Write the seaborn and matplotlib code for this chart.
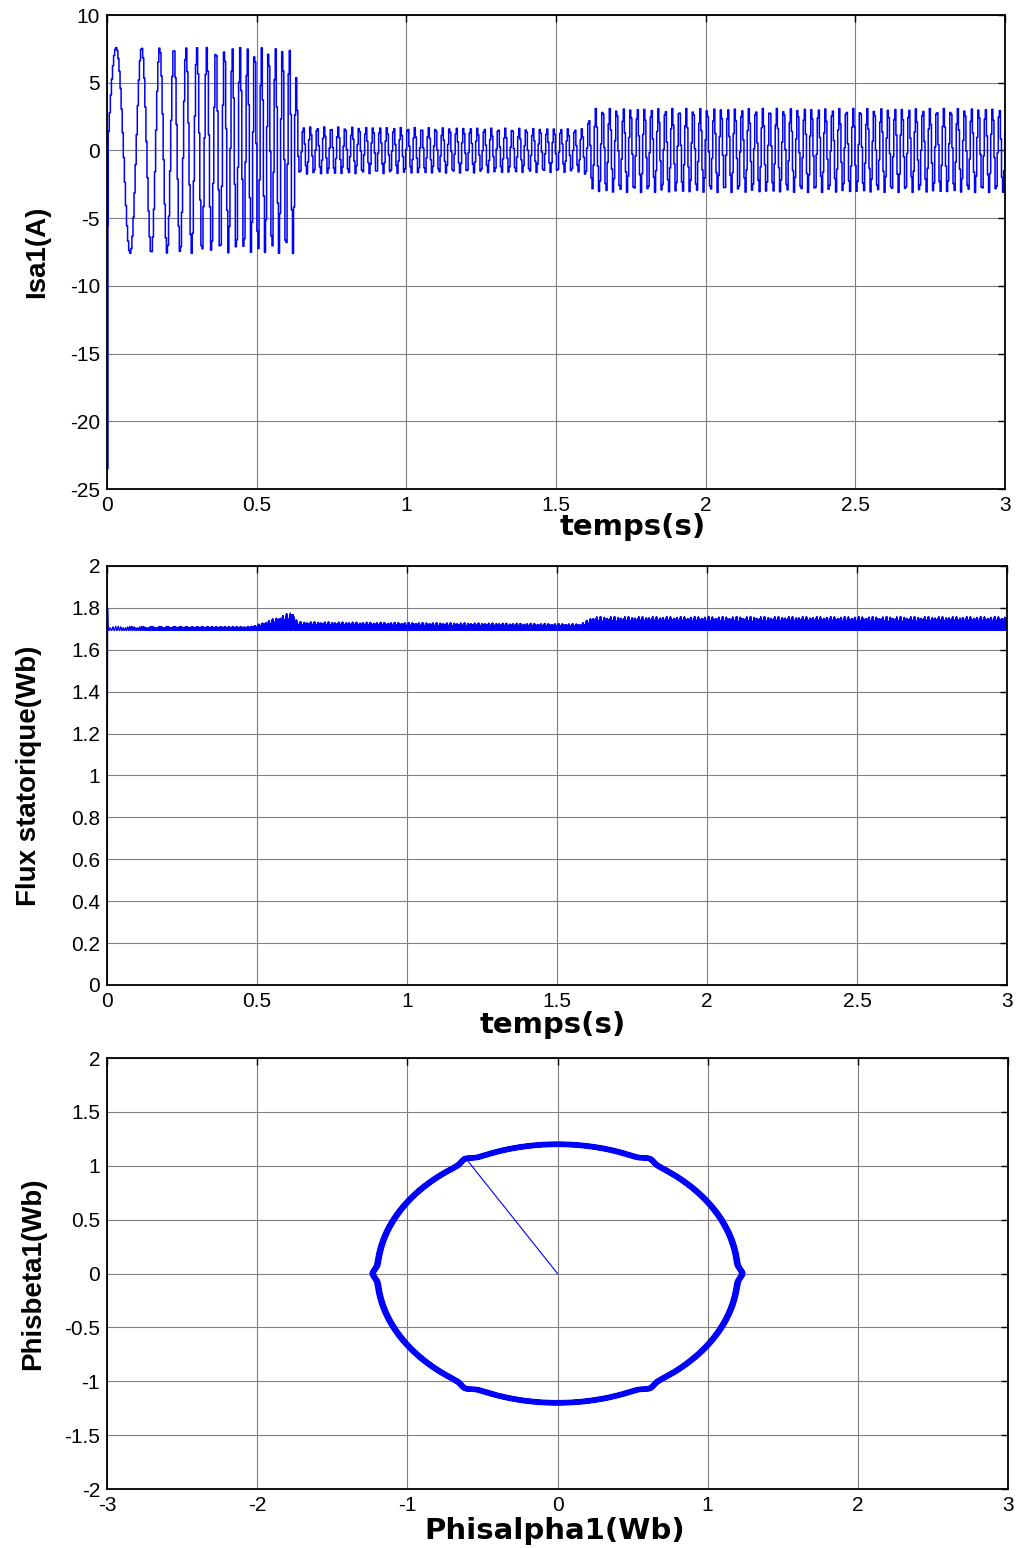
import numpy as np
import pandas as pd
import seaborn as sns
import matplotlib
matplotlib.use("Agg")
import matplotlib.pyplot as plt

# ---- values ----
# stator current Isa1: startup spike, then sine whose frequency ramps up and amplitude steps
isa_start_t = [0.0, 0.001, 0.003]
isa_start_v = [0.0, -23.5, -5.5]
freq_knots_t = [0.0, 0.1, 0.2, 0.3, 0.4, 0.5, 3.0]
freq_knots_hz = [8.0, 13.0, 21.0, 29.0, 37.0, 43.0, 43.0]
amp_knots_t = [0.0, 0.625, 0.64, 1.59, 1.625, 3.0]
amp_knots_a = [7.6, 7.6, 1.75, 1.6, 3.1, 3.1]
hold_dt = 0.0036         # sample & hold step of the controller

# stator flux magnitude: start transient, band base and upper envelope of the ripple
flux_start_t = [0.0, 0.002, 0.004]
flux_start_v = [0.0, 1.8, 1.7]
flux_base = 1.692
flux_env_t = [0.0, 0.48, 0.5, 0.62, 0.635, 1.58, 1.62, 3.0]
flux_env_v = [1.712, 1.712, 1.72, 1.785, 1.735, 1.725, 1.76, 1.76]

# flux trajectory (alpha, beta): initial straight path then circle with hexagon bumps
traj_start_alpha = [0.0, -0.6]
traj_start_beta = [0.0, 1.05]
circle_radii = [1.19, 1.195, 1.2, 1.205, 1.21]
hex_bump = 0.03

x_ticks_time = [0, 0.5, 1, 1.5, 2, 2.5, 3]
y_ticks_isa = [-25, -20, -15, -10, -5, 0, 5, 10]
y_ticks_flux = [0, 0.2, 0.4, 0.6, 0.8, 1, 1.2, 1.4, 1.6, 1.8, 2]
x_ticks_alpha = [-3, -2, -1, 0, 1, 2, 3]
y_ticks_beta = [-2, -1.5, -1, -0.5, 0, 0.5, 1, 1.5, 2]

# ---- build signals from the read parameters ----
t_h = np.arange(0.004, 3.0 + hold_dt, hold_dt)
f_h = np.interp(t_h, freq_knots_t, freq_knots_hz)
phase = 2 * np.pi * np.cumsum(f_h) * hold_dt
a_h = np.interp(t_h, amp_knots_t, amp_knots_a)
isa = pd.DataFrame({
    "t": np.concatenate([isa_start_t, t_h]),
    "isa": np.concatenate([isa_start_v, a_h * np.sin(phase)]),
})

t_f = np.arange(0.006, 3.0, 0.0005)
f_f = np.interp(t_f, freq_knots_t, freq_knots_hz)
ph_f = 2 * np.pi * np.cumsum(f_f) * 0.0005
env = np.interp(t_f, flux_env_t, flux_env_v)
ripple = np.abs(np.sin(6 * ph_f)) ** 3 * (0.55 + 0.45 * np.abs(np.sin(ph_f)))
flux = pd.DataFrame({
    "t": np.concatenate([flux_start_t, t_f]),
    "flux": np.concatenate([flux_start_v, flux_base + (env - flux_base) * ripple]),
})

th = np.linspace(0, 2 * np.pi, 1441)
alpha, beta = [], []
for r in circle_radii:
    rr = r + hex_bump * np.abs(np.cos(3 * (th + 2 * np.pi / 3))) ** 120
    alpha.append(rr * np.cos(th + 2 * np.pi / 3))
    beta.append(rr * np.sin(th + 2 * np.pi / 3))
traj = pd.DataFrame({"alpha": np.concatenate(alpha), "beta": np.concatenate(beta)})
start = pd.DataFrame({"alpha": traj_start_alpha, "beta": traj_start_beta})

# ---- figure ----
sns.set_theme(style="white")
plt.rcParams["font.family"] = ["Liberation Sans", "DejaVu Sans"]

fig = plt.figure(figsize=(10.18, 15.48), dpi=100)
ax1 = fig.add_axes([0.1051, 0.6841, 0.8821, 0.3062])
ax2 = fig.add_axes([0.1051, 0.3637, 0.8841, 0.2707])
ax3 = fig.add_axes([0.1051, 0.0381, 0.8851, 0.2784])

blue = (0, 0, 1)
sns.lineplot(data=isa, x="t", y="isa", ax=ax1, color=blue, lw=1.1,
             estimator=None, sort=False, drawstyle="steps-post")
sns.lineplot(data=flux, x="t", y="flux", ax=ax2, color=blue, lw=0.9,
             estimator=None, sort=False)
sns.lineplot(data=start, x="alpha", y="beta", ax=ax3, color=blue, lw=0.8,
             estimator=None, sort=False)
sns.lineplot(data=traj, x="alpha", y="beta", ax=ax3, color=blue, lw=2.6,
             estimator=None, sort=False)

label_font = dict(fontweight="bold", family=["DejaVu Sans"], fontsize=21, color="black")
ylab_font = dict(fontweight="bold", family=["Liberation Sans"], fontsize=20, color="black")

def style(ax, xlim, ylim, xticks, yticks, xlabel, ylabel, xlab_pos, ylab_x):
    ax.set_xlim(xlim)
    ax.set_ylim(ylim)
    ax.set_xticks(xticks)
    ax.set_yticks(yticks)
    ax.set_xticklabels([f"{v:g}" for v in xticks])
    ax.set_yticklabels([f"{v:g}" for v in yticks])
    ax.grid(True, color="0.5", lw=0.8)
    ax.set_axisbelow(True)
    for s in ax.spines.values():
        s.set_color("black")
        s.set_linewidth(1.3)
    ax.tick_params(direction="in", top=True, right=True, length=5, width=1,
                   labelsize=15, colors="black", pad=5)
    ax.set_xlabel(xlabel, **label_font)
    ax.set_ylabel(ylabel, **ylab_font)
    ax.xaxis.set_label_coords(xlab_pos[0], xlab_pos[1])
    ax.yaxis.set_label_coords(ylab_x, 0.5)

style(ax1, (0, 3), (-25, 10), x_ticks_time, y_ticks_isa, "temps(s)", "Isa1(A)",
      (0.585, -0.05), -0.063)
style(ax2, (0, 3), (0, 2), x_ticks_time, y_ticks_flux, "temps(s)", "Flux statorique(Wb)",
      (0.495, -0.063), -0.072)
style(ax3, (-3, 3), (-2, 2), x_ticks_alpha, y_ticks_beta, "Phisalpha1(Wb)", "Phisbeta1(Wb)",
      (0.497, -0.064), -0.067)

fig.savefig("out.png", dpi=100, facecolor="white")
